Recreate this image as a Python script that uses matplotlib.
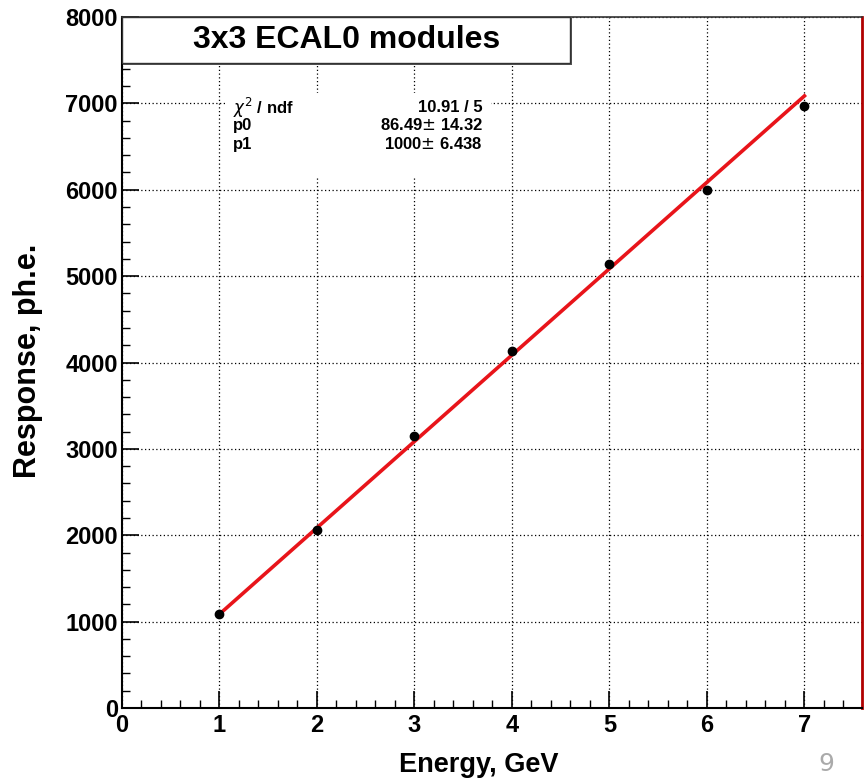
import numpy as np
import matplotlib.pyplot as plt
from matplotlib.patches import Rectangle
from matplotlib.ticker import MultipleLocator

plt.rcParams['font.family'] = ['Liberation Sans', 'DejaVu Sans']

# data
energy = [1, 2, 3, 4, 5, 6, 7]
response = [1090, 2060, 3150, 4130, 5140, 6000, 6970]
p0, p1 = 86.49, 1000.0
fit_range = [1, 7]
title = '3x3 ECAL0 modules'
stats_names = ['$\\chi^{2}$ / ndf', 'p0', 'p1']
stats_values = ['10.91 / 5', '86.49$\\pm$ 14.32', '1000$\\pm$ 6.438']

fig = plt.figure(figsize=(8.65, 7.8), dpi=100)
ax = fig.add_axes([0.141, 0.0923, 0.8555, 0.8859])
ax.set_xlim(0, 7.59)
ax.set_ylim(0, 8000)

# grid + ticks, ROOT-like
ax.xaxis.set_major_locator(MultipleLocator(1))
ax.xaxis.set_minor_locator(MultipleLocator(0.2))
ax.yaxis.set_major_locator(MultipleLocator(1000))
ax.yaxis.set_minor_locator(MultipleLocator(200))
ax.tick_params(which='major', direction='in', length=12, width=1.2,
               labelsize=17, top=False, right=False)
ax.tick_params(which='minor', direction='in', length=6, width=1.0,
               top=False, right=False)
for lab in ax.get_xticklabels() + ax.get_yticklabels():
    lab.set_fontweight('bold')
ax.tick_params(axis='x', pad=4)
ax.tick_params(axis='y', pad=3)
ax.grid(True, which='major', color='black', linestyle=(0, (1, 2)), linewidth=0.9)

for s in ['left', 'bottom']:
    ax.spines[s].set_color('black')
    ax.spines[s].set_linewidth(1.5)
ax.spines['right'].set_color('#b00000')
ax.spines['right'].set_linewidth(2)
ax.spines['top'].set_color('#333333')
ax.spines['top'].set_linewidth(1.2)

# fit line
xf = np.array(fit_range, dtype=float)
ax.plot(xf, p0 + p1 * xf, color='#e8141a', linewidth=2.6, zorder=3)
# points
ax.plot(energy, response, 'o', color='black', markersize=6, zorder=4)

ax.set_xlabel('Energy, GeV', fontsize=19.5, fontweight='bold')
ax.set_ylabel('Response, ph.e.', fontsize=22, fontweight='bold')
ax.xaxis.set_label_coords(0.482, -0.064)
ax.yaxis.set_label_coords(-0.107, 0.502)

# title box with a thin shadow
ax.add_patch(Rectangle((0.002, 0.931), 0.606, 0.069, transform=ax.transAxes,
                       facecolor='#555555', edgecolor='none', zorder=5, clip_on=False))
ax.add_patch(Rectangle((0.0, 0.934), 0.605, 0.066, transform=ax.transAxes,
                       facecolor='white', edgecolor='#333333', linewidth=1.0,
                       zorder=6, clip_on=False))
ax.text(0.303, 0.966, title, transform=ax.transAxes, ha='center', va='center',
        fontsize=23, fontweight='bold', zorder=7)

# stats box
ax.add_patch(Rectangle((0.139, 0.77), 0.36, 0.12, transform=ax.transAxes,
                       facecolor='white', edgecolor='none', zorder=5))
ys = [0.869, 0.843, 0.816]
for name, val, y in zip(stats_names, stats_values, ys):
    ax.text(0.15, y, name, transform=ax.transAxes, ha='left', va='center',
            fontsize=12, fontweight='bold', zorder=6)
    ax.text(0.488, y, val, transform=ax.transAxes, ha='right', va='center',
            fontsize=12, fontweight='bold', zorder=6)

# slide page number
fig.text(0.955, 0.005, '9', color='#aaaaaa', fontsize=18, ha='center', va='bottom',
         family='DejaVu Sans')

fig.savefig('out.png', dpi=100)
